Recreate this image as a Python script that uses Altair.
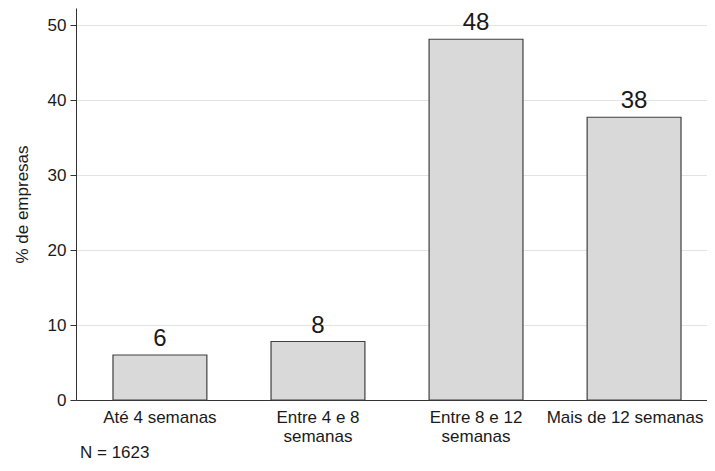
import altair as alt
import pandas as pd

categories = ["Até 4 semanas", "Entre 4 e 8\nsemanas", "Entre 8 e 12\nsemanas", "Mais de 12 semanas"]
values = [6.0, 7.8, 48.1, 37.7]
note = "N = 1623"

df = pd.DataFrame({"cat": categories, "val": values})

FONT = "Liberation Sans"
TXT = "#1a1a1a"

x = alt.X("cat:N", sort=categories, title=None,
          scale=alt.Scale(range=[0, 642], paddingInner=0.406, paddingOuter=0.234),
          axis=alt.Axis(labelAngle=0, ticks=False, domainColor="#333333",
                        labelExpr="split(datum.label, '\\n')",
                        labelFontSize=17, labelColor=TXT, labelFont=FONT,
                        labelOffset={"condition": {"test": "datum.value == 'Mais de 12 semanas'", "value": -9},
                                     "value": 0},
                        labelPadding=9, labelLineHeight=19, labelBaseline="top"))
y = alt.Y("val:Q", title="% de empresas",
          scale=alt.Scale(domain=[0, 52.27], nice=False, zero=True),
          axis=alt.Axis(values=[0, 10, 20, 30, 40, 50], tickSize=6, tickColor="#333333",
                        domainColor="#333333", gridColor="#e3e3e3",
                        labelFontSize=17, labelColor=TXT, labelFont=FONT,
                        labelPadding=4, titleFontSize=17, titleFont=FONT,
                        titleFontWeight="normal", titleColor=TXT, titlePadding=16))

bars = alt.Chart(df).mark_bar(color="#d9d9d9", stroke="#404040", strokeWidth=1.2).encode(x=x, y=y)
labels = alt.Chart(df).mark_text(baseline="alphabetic", dy=-9, fontSize=24, font=FONT, color=TXT).encode(
    x=alt.X("cat:N", sort=categories), y="val:Q", text=alt.Text("val:Q", format=".0f"))
ntext = alt.Chart(pd.DataFrame({"t": [note]})).mark_text(
    align="left", baseline="middle", fontSize=17, font=FONT, color=TXT).encode(
    x=alt.value(4), y=alt.value(445), text="t:N")

chart = (bars + labels + ntext).properties(
    width=631, height=392,
    autosize=alt.AutoSizeParams(type="none"),
    padding={"left": 68, "top": 0, "right": 0, "bottom": 63},
).configure_view(stroke=None).configure_axis(grid=False).configure_axisY(grid=True)

chart.save("out.html", embed_options={"renderer": "svg", "actions": False})
